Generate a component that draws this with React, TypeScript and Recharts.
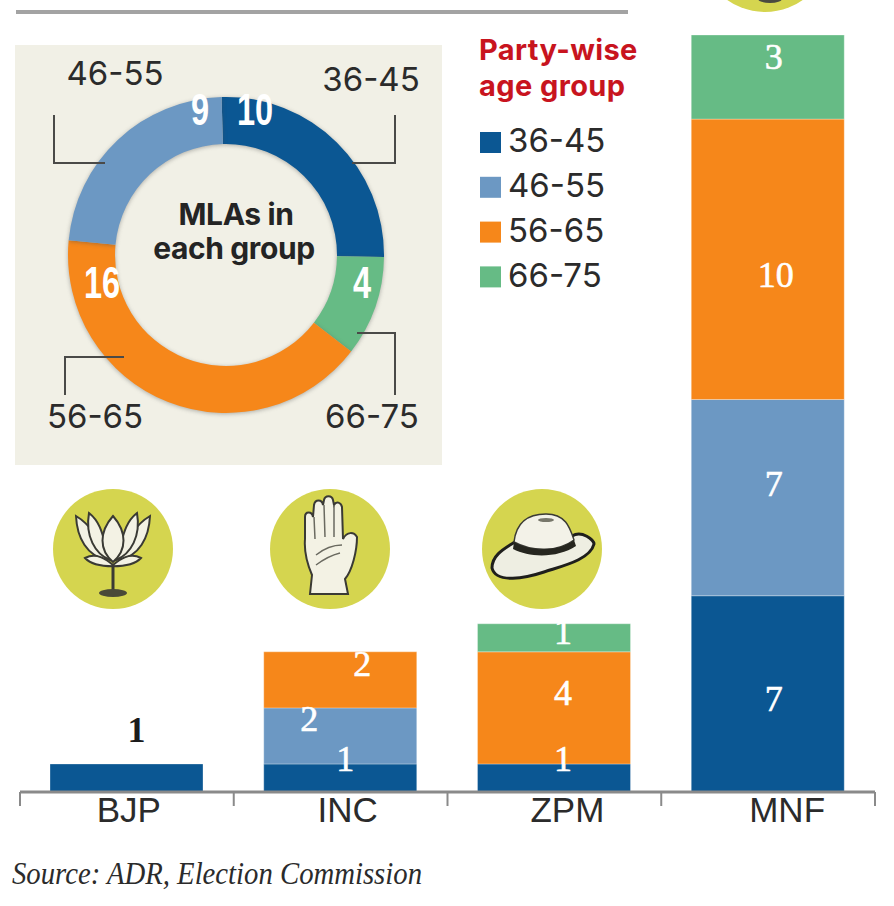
import { Bar, BarChart, LabelList, Pie, PieChart, XAxis, YAxis, Cell } from 'recharts';

const parties = ['BJP', 'INC', 'ZPM', 'MNF'];
const ageGroups = ['36-45', '46-55', '56-65', '66-75'];
const groupColors = ['#0b5793', '#6c98c3', '#f6871a', '#66bb85'];

const age3645 = [1, 1, 1, 7];
const age4655 = [0, 2, 0, 7];
const age5665 = [0, 2, 4, 10];
const age6675 = [0, 0, 1, 3];

const ringGroups = ['36-45', '66-75', '56-65', '46-55'];
const ringValues = [10, 4, 16, 9];

const barData = parties.map((party, i) => ({
  party,
  '36-45': age3645[i],
  '46-55': age4655[i],
  '56-65': age5665[i],
  '66-75': age6675[i],
}));
const ringData = ringGroups.map((name, i) => ({ name, value: ringValues[i] }));

const SANS = 'Inter, sans-serif';
const SERIF = '"Liberation Serif", serif';

// the printed labels sit off-centre, [dx, dy] from the middle of each segment.
// LabelList skips the empty segments, so each row only lists the drawn ones
const barLabelShift: number[][][] = [
  [[10, -48], [5, -19], [9, -19], [6, 5]],
  [[-31, -17], [6, -14]],
  [[22, -16], [9, -15], [8, 16]],
  [[9, -6], [6, -20]],
];
const labelNudge = [2, 7, 13, 19];

// ring callouts, relative to the ring centre
const ringCallouts: Record<string, { value: number[]; text: number[]; line: string }> = {
  '36-45': { value: [29, -145], text: [145, -176], line: '169,-140 169,-92 126,-92' },
  '66-75': { value: [136, 28], text: [146, 161], line: '169,140 169,78 131,78' },
  '56-65': { value: [-124, 28], text: [-131, 161], line: '-161,140 -161,102 -102,102' },
  '46-55': { value: [-26, -145], text: [-111, -182], line: '-172,-140 -172,-92 -121,-92' },
};

const layer = { position: 'absolute', left: 0, top: 0 } as const;

function PartyTick({ x, payload, index }: any) {
  const half = 213.75 / 2;
  return (
    <g>
      <line x1={x - half} x2={x - half} y1={792} y2={806} stroke="#8a8a8a" strokeWidth={2} />
      {index === parties.length - 1 && (
        <line x1={x + half} x2={x + half} y1={792} y2={806} stroke="#8a8a8a" strokeWidth={2} />
      )}
      <text x={x + labelNudge[index]} y={822} textAnchor="middle" fontFamily='"Liberation Sans", sans-serif' fontSize={35} fill="#2b2b2b">
        {payload.value}
      </text>
    </g>
  );
}

function segmentLabel(seriesIndex: number) {
  return ({ x, y, width, height, value, index }: any) => {
    if (!value) return null;
    const [dx, dy] = barLabelShift[seriesIndex][index];
    const dark = seriesIndex === 0 && index === 0;
    return (
      <text
        x={x + width / 2 + dx}
        y={y + height / 2 + dy}
        dominantBaseline="central"
        textAnchor="middle"
        fontFamily={SERIF}
        fontSize={36}
        fontWeight={dark ? 700 : 400}
        fill={dark ? '#1b1b1b' : '#ffffff'}
        stroke={dark ? 'none' : '#ffffff'}
        strokeWidth={0.6}
      >
        {value}
      </text>
    );
  };
}

function ringLabel({ cx, cy, name, value }: any) {
  const c = ringCallouts[name];
  const points = c.line
    .split(' ')
    .map((p) => {
      const [a, b] = p.split(',').map(Number);
      return `${cx + a},${cy + b}`;
    })
    .join(' ');
  return (
    <g>
      <polyline points={points} fill="none" stroke="#4a4a48" strokeWidth={2} />
      <text x={cx + c.text[0]} y={cy + c.text[1]} dominantBaseline="central" textAnchor="middle" fontFamily={SANS} fontSize={33} fill="#2b2b2b">
        {name}
      </text>
      <text
        transform={`translate(${cx + c.value[0]},${cy + c.value[1]}) scale(0.74,1)`}
        dominantBaseline="central"
        textAnchor="middle"
        fontFamily='"Liberation Sans", sans-serif'
        fontWeight={700}
        fontSize={44}
        fill="#ffffff"
      >
        {value}
      </text>
    </g>
  );
}

function Lotus({ x, y }: { x: number; y: number }) {
  const stroke = { stroke: '#3a3a34', strokeWidth: 2, fill: '#f3f2e4' };
  return (
    <g transform={`translate(${x},${y})`}>
      <path d="M0,14 L0,38" stroke="#3a3a34" strokeWidth={3} />
      <ellipse cx={0} cy={41} rx={14} ry={4} fill="#4a4a38" />
      <path d="M-37,-36 C-36,-14 -26,4 -6,8 C-14,-10 -20,-26 -37,-36Z" {...stroke} />
      <path d="M37,-36 C36,-14 26,4 6,8 C14,-10 20,-26 37,-36Z" {...stroke} />
      <path d="M-24,-39 C-28,-16 -18,2 -3,8 C-10,-12 -10,-28 -24,-39Z" {...stroke} />
      <path d="M24,-39 C28,-16 18,2 3,8 C10,-12 10,-28 24,-39Z" {...stroke} />
      <path d="M0,-36 C14,-20 14,-2 0,10 C-14,-2 -14,-20 0,-36Z" {...stroke} />
      <path d="M-28,6 C-16,0 -6,8 0,13 C6,8 16,0 28,6 C18,17 -18,17 -28,6Z" {...stroke} />
    </g>
  );
}

function Hand({ x, y }: { x: number; y: number }) {
  return (
    <g transform={`translate(${x},${y})`}>
      <path
        d="M-20,47 L-18,28 C-24,14 -26,4 -25,-8 L-25,-30 C-25,-36 -18,-36 -17,-30 L-16,-42 C-15,-48 -8,-48 -7,-42 L-6,-47 C-5,-52 2,-52 3,-47 L4,-42 C6,-46 11,-45 12,-40 L13,-8 C17,-16 24,-15 27,-10 C27,4 22,24 15,32 L18,47Z"
        fill="#f3f2e4"
        stroke="#3a3a34"
        strokeWidth={2}
      />
      <path d="M-16,-30 L-15,-8 M-6,-42 L-5,-10 M4,-42 L4,-10 M-14,8 C-4,0 6,-2 12,-2 M-14,18 C-6,12 2,8 10,6" fill="none" stroke="#6a6a60" strokeWidth={1.5} />
    </g>
  );
}

function Hat({ x, y }: { x: number; y: number }) {
  return (
    <g transform={`translate(${x},${y})`}>
      <path d="M-48,20 C-48,6 -34,0 -22,-8 C-8,-4 20,-4 32,-12 C42,-18 54,-8 54,-4 C50,12 22,18 4,24 C-14,30 -44,36 -48,20Z" fill="#eeeee2" stroke="#1f1f1c" strokeWidth={3} />
      <path d="M-26,-6 C-24,-24 -14,-34 6,-34 C26,-34 30,-20 34,-8 C18,4 -8,4 -26,-6Z" fill="#f3f2e8" stroke="#3a3a34" strokeWidth={1.5} />
      <path d="M-26,-6 C-8,4 18,4 34,-8 L36,-2 C18,10 -10,10 -27,1Z" fill="#26261f" />
      <ellipse cx={6} cy={-28} rx={8} ry={2} fill="#77776a" />
    </g>
  );
}

export default function App() {
  return (
    <div style={{ ...layer, width: 894, height: 906, overflow: 'hidden', background: '#ffffff' }}>
      <svg width={894} height={906} style={layer}>
        <rect x={16} y={10} width={612} height={4} fill="#a3a3a3" />
        <rect x={15} y={45} width={427} height={420} fill="#f1f0e6" />
        <text fontFamily={SANS} fontWeight={700} fontSize={29} letterSpacing={0.4} fill="#c8141e">
          <tspan x={479} y={60}>Party-wise</tspan>
          <tspan x={479} y={96}>age group</tspan>
        </text>
        {ageGroups.map((g, i) => (
          <g key={g}>
            <rect x={480} y={132 + i * 44.8} width={21} height={21} fill={groupColors[i]} />
            <text x={508} y={152 + i * 45} fontFamily={SANS} fontSize={33} fill="#2b2b2b">{g}</text>
          </g>
        ))}
        <ellipse cx={113} cy={549} rx={60} ry={60} fill="#d5d54f" />
        <ellipse cx={330} cy={549} rx={60} ry={60} fill="#d5d54f" />
        <ellipse cx={542} cy={549} rx={60} ry={60} fill="#d5d54f" />
        <ellipse cx={765} cy={-46} rx={62} ry={58} fill="#d5d54f" />
        <ellipse cx={770} cy={-1} rx={12} ry={4} fill="#4a4a40" />
        <Lotus x={113} y={552} />
        <Hand x={330} y={547} />
        <Hat x={540} y={548} />
        <text x={12} y={884} fontFamily={SERIF} fontStyle="italic" fontSize={32} textLength={410} lengthAdjust="spacingAndGlyphs" fill="#2b2b2b">
          Source: ADR, Election Commission
        </text>
      </svg>

      <div style={layer}>
        <BarChart width={894} height={906} data={barData} margin={{ top: 35, right: 19, bottom: 74, left: 20 }}>
          <XAxis
            dataKey="party"
            height={40}
            interval={0}
            axisLine={{ stroke: '#8a8a8a', strokeWidth: 3 }}
            tickLine={false}
            tick={PartyTick}
          />
          <YAxis hide domain={[0, 27]} />
          {ageGroups.map((g, i) => (
            <Bar key={g} dataKey={g} stackId="age" fill={groupColors[i]} stroke="#ffffff" strokeOpacity={0.3} barSize={153} isAnimationActive={false}>
              <LabelList dataKey={g} content={segmentLabel(i)} />
            </Bar>
          ))}
        </BarChart>
      </div>

      <div style={layer}>
        <PieChart width={894} height={906} margin={{ top: 0, right: 0, bottom: 0, left: 0 }}>
          <Pie
            data={ringData}
            dataKey="value"
            nameKey="name"
            cx={226}
            cy={255}
            innerRadius={111}
            outerRadius={158}
            startAngle={91.6}
            endAngle={-268.4}
            stroke="none"
            labelLine={false}
            label={ringLabel}
            isAnimationActive={false}
          >
            {ringGroups.map((g) => (
              <Cell key={g} fill={groupColors[ageGroups.indexOf(g)]} style={{ filter: 'drop-shadow(0 1px 2px rgba(70,70,70,0.4))' }} />
            ))}
          </Pie>
          <text textAnchor="middle" fontFamily={SANS} fontWeight={700} fontSize={30} letterSpacing={-0.4} fill="#242424">
            <tspan x={236} y={225}>MLAs in</tspan>
            <tspan x={234} y={259}>each group</tspan>
          </text>
        </PieChart>
      </div>
    </div>
  );
}
